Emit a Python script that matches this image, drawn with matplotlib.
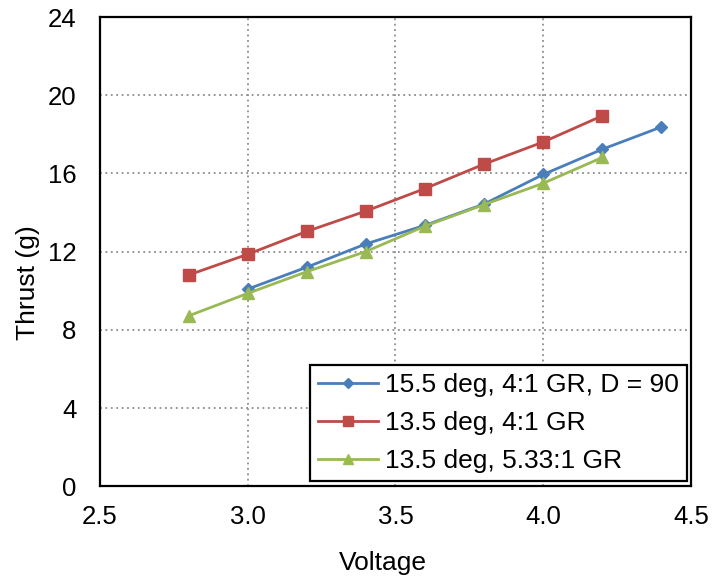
import matplotlib
matplotlib.use("Agg")
import matplotlib.pyplot as plt

plt.rcParams['font.family'] = ['Liberation Sans', 'DejaVu Sans']

# Thrust vs. voltage for three propeller / gear-ratio configurations
volts_a = [3.0, 3.2, 3.4, 3.6, 3.8, 4.0, 4.2, 4.4]
thrust_a = [10.09, 11.21, 12.40, 13.35, 14.44, 15.95, 17.24, 18.38]

volts_b = [2.8, 3.0, 3.2, 3.4, 3.6, 3.8, 4.0, 4.2]
thrust_b = [10.81, 11.87, 13.04, 14.08, 15.23, 16.48, 17.61, 18.95]

volts_c = [2.8, 3.0, 3.2, 3.4, 3.6, 3.8, 4.0, 4.2]
thrust_c = [8.72, 9.87, 10.98, 12.01, 13.31, 14.41, 15.50, 16.82]

labels = ["15.5 deg, 4:1 GR, D = 90", "13.5 deg, 4:1 GR", "13.5 deg, 5.33:1 GR"]
colors = ["#4A7EBB", "#BE4B48", "#98B954"]

x_ticks = [2.5, 3.0, 3.5, 4.0, 4.5]
x_tick_labels = ["2.5", "3.0", "3.5", "4.0", "4.5"]
y_ticks = [0, 4, 8, 12, 16, 20, 24]

fig = plt.figure(figsize=(7.12, 5.77), dpi=100)
ax = fig.add_axes([0.1404, 0.157, 0.8301, 0.8135])

ax.plot(volts_a, thrust_a, color=colors[0], lw=2, marker='D', ms=6.5, label=labels[0], zorder=3)
ax.plot(volts_b, thrust_b, color=colors[1], lw=2, marker='s', ms=8, label=labels[1], zorder=3)
ax.plot(volts_c, thrust_c, color=colors[2], lw=2, marker='^', ms=8.5, label=labels[2], zorder=3)

ax.set_xlim(2.5, 4.5)
ax.set_ylim(0, 24)
ax.set_xticks(x_ticks)
ax.set_xticklabels(x_tick_labels)
ax.set_yticks(y_ticks)
ax.tick_params(axis='both', length=0, labelsize=18.5)
ax.tick_params(axis='y', pad=17)
ax.tick_params(axis='x', pad=13.5)

ax.grid(True, color='#8c8c8c', linestyle=(0, (1, 2)), linewidth=1.3)
ax.set_axisbelow(True)

for s in ax.spines.values():
    s.set_color('black')
    s.set_linewidth(1.6)

ax.set_xlabel("Voltage", fontsize=19)
ax.xaxis.set_label_coords(0.478, -0.137)
ax.set_ylabel("Thrust (g)", fontsize=19)
ax.yaxis.set_label_coords(-0.102, 0.435)

leg = ax.legend(loc='lower right', bbox_to_anchor=(0.993, 0.012), borderaxespad=0,
                fontsize=19, fancybox=False, framealpha=1, edgecolor='black',
                handlelength=2.28, handletextpad=0.27, labelspacing=0.53,
                borderpad=0.3, markerscale=0.85)
leg.get_frame().set_linewidth(1.6)

fig.savefig("out.png", dpi=100)
